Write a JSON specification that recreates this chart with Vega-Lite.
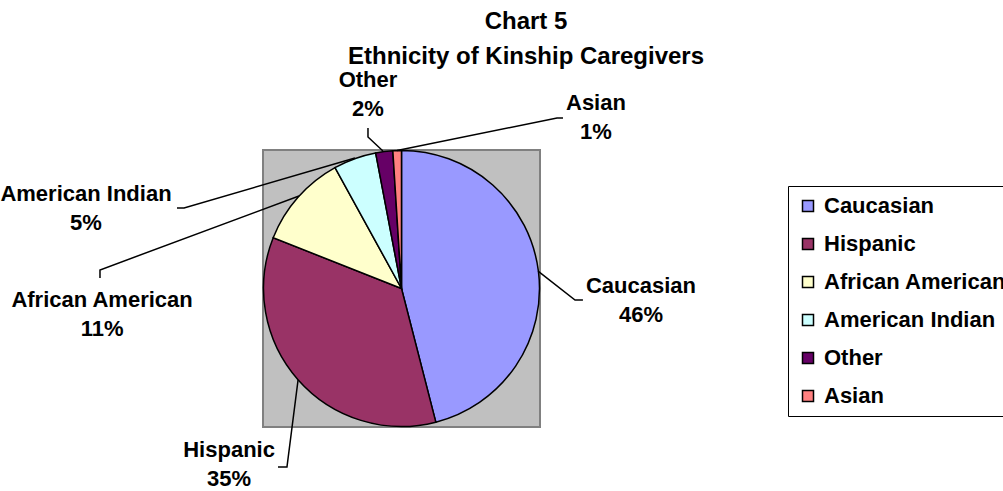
{
  "$schema": "https://vega.github.io/schema/vega-lite/v6.json",
  "width": 1003,
  "height": 491,
  "autosize": {"type": "none"},
  "padding": 0,
  "background": "white",
  "config": {"view": {"stroke": null}, "font": "Liberation Sans"},
  "title": {
    "text": ["Chart 5", "Ethnicity of Kinship Caregivers"],
    "fontSize": 24,
    "fontWeight": "bold",
    "font": "Liberation Sans",
    "color": "black",
    "anchor": "middle",
    "frame": "group",
    "offset": 0,
    "baseline": "alphabetic",
    "dx": 24.5,
    "dy": 88,
    "lineHeight": 35
  },
  "datasets": {
    "pie": [
      {"category": "Caucasian", "value": 46, "rank": 1},
      {"category": "Hispanic", "value": 35, "rank": 2},
      {"category": "African American", "value": 11, "rank": 3},
      {"category": "American Indian", "value": 5, "rank": 4},
      {"category": "Other", "value": 2, "rank": 5},
      {"category": "Asian", "value": 1, "rank": 6}
    ],
    "labels": [
      {"category": "Caucasian", "label": ["Caucasian", "46%"], "lx": 1.729, "ly": -0.032},
      {"category": "Hispanic", "label": ["Hispanic", "35%"], "lx": -1.245, "ly": -1.217},
      {"category": "African American", "label": ["African American", "11%"], "lx": -2.162, "ly": -0.134},
      {"category": "American Indian", "label": ["American Indian", "5%"], "lx": -2.278, "ly": 0.632},
      {"category": "Other", "label": ["Other", "2%"], "lx": -0.242, "ly": 1.455},
      {"category": "Asian", "label": ["Asian", "1%"], "lx": 1.404, "ly": 1.289}
    ],
    "leaders": [
      {"seg": "Caucasian", "i": 1, "lx": 0.986, "ly": 0.126},
      {"seg": "Caucasian", "i": 2, "lx": 1.253, "ly": -0.083},
      {"seg": "Caucasian", "i": 3, "lx": 1.31, "ly": -0.083},
      {"seg": "Hispanic", "i": 1, "lx": -0.747, "ly": -0.661},
      {"seg": "Hispanic", "i": 2, "lx": -0.827, "ly": -1.289},
      {"seg": "Hispanic", "i": 3, "lx": -0.892, "ly": -1.289},
      {"seg": "African American", "i": 1, "lx": -0.74, "ly": 0.668},
      {"seg": "African American", "i": 2, "lx": -2.177, "ly": 0.134},
      {"seg": "African American", "i": 3, "lx": -2.177, "ly": 0.076},
      {"seg": "American Indian", "i": 1, "lx": -0.336, "ly": 0.942},
      {"seg": "American Indian", "i": 2, "lx": -1.57, "ly": 0.581},
      {"seg": "American Indian", "i": 3, "lx": -1.621, "ly": 0.581},
      {"seg": "Other", "i": 1, "lx": -0.134, "ly": 0.993},
      {"seg": "Other", "i": 2, "lx": -0.242, "ly": 1.094},
      {"seg": "Other", "i": 3, "lx": -0.242, "ly": 1.159},
      {"seg": "Asian", "i": 1, "lx": -0.032, "ly": 0.996},
      {"seg": "Asian", "i": 2, "lx": 1.123, "ly": 1.231},
      {"seg": "Asian", "i": 3, "lx": 1.166, "ly": 1.231}
    ]
  },
  "layer": [
    {
      "data": {"values": [{"box": "plot area"}]},
      "mark": {"type": "rect", "fill": "#C0C0C0", "stroke": "#808080", "strokeWidth": 2},
      "encoding": {
        "x": {"datum": -1, "type": "quantitative", "scale": {"domain": [-2.89892, 4.34296], "nice": false, "zero": false}, "axis": null},
        "x2": {"datum": 1},
        "y": {"datum": -1, "type": "quantitative", "scale": {"domain": [-1.46209, 2.08303], "nice": false, "zero": false}, "axis": null},
        "y2": {"datum": 1}
      }
    },
    {
      "data": {"name": "pie"},
      "mark": {"type": "arc", "outerRadius": 138, "stroke": "black", "strokeWidth": 1.5},
      "encoding": {
        "theta": {"field": "value", "type": "quantitative", "stack": true},
        "order": {"field": "rank", "type": "quantitative"},
        "x": {"datum": 0, "type": "quantitative", "scale": {"domain": [-2.89892, 4.34296], "nice": false, "zero": false}, "axis": null},
        "y": {"datum": 0, "type": "quantitative", "scale": {"domain": [-1.46209, 2.08303], "nice": false, "zero": false}, "axis": null},
        "color": {
          "field": "category",
          "type": "nominal",
          "sort": null,
          "scale": {
            "domain": ["Caucasian", "Hispanic", "African American", "American Indian", "Other", "Asian"],
            "range": ["#9999FF", "#993366", "#FFFFCC", "#CCFFFF", "#660066", "#FF8080"]
          },
          "legend": {
            "orient": "none",
            "legendX": 788,
            "legendY": 186,
            "title": null,
            "symbolType": "square",
            "symbolSize": 121,
            "symbolStrokeColor": "black",
            "symbolStrokeWidth": 1.5,
            "labelFont": "Liberation Sans",
            "labelFontSize": 22,
            "labelFontWeight": "bold",
            "labelColor": "black",
            "labelLimit": 0,
            "labelOffset": 5,
            "strokeColor": "black",
            "fillColor": "white",
            "padding": 9,
            "rowPadding": 16
          }
        }
      }
    },
    {
      "data": {"name": "leaders"},
      "mark": {"type": "line", "color": "black", "strokeWidth": 1.5},
      "encoding": {
        "x": {"field": "lx", "type": "quantitative", "scale": {"domain": [-2.89892, 4.34296], "nice": false, "zero": false}, "axis": null},
        "y": {"field": "ly", "type": "quantitative", "scale": {"domain": [-1.46209, 2.08303], "nice": false, "zero": false}, "axis": null},
        "detail": {"field": "seg", "type": "nominal"},
        "order": {"field": "i", "type": "quantitative"}
      }
    },
    {
      "data": {"name": "labels"},
      "mark": {"type": "text", "align": "center", "baseline": "alphabetic", "fontSize": 22, "fontWeight": "bold", "font": "Liberation Sans", "color": "black", "lineHeight": 29},
      "encoding": {
        "x": {"field": "lx", "type": "quantitative", "scale": {"domain": [-2.89892, 4.34296], "nice": false, "zero": false}, "axis": null},
        "y": {"field": "ly", "type": "quantitative", "scale": {"domain": [-1.46209, 2.08303], "nice": false, "zero": false}, "axis": null},
        "text": {"field": "label"}
      }
    }
  ]
}
